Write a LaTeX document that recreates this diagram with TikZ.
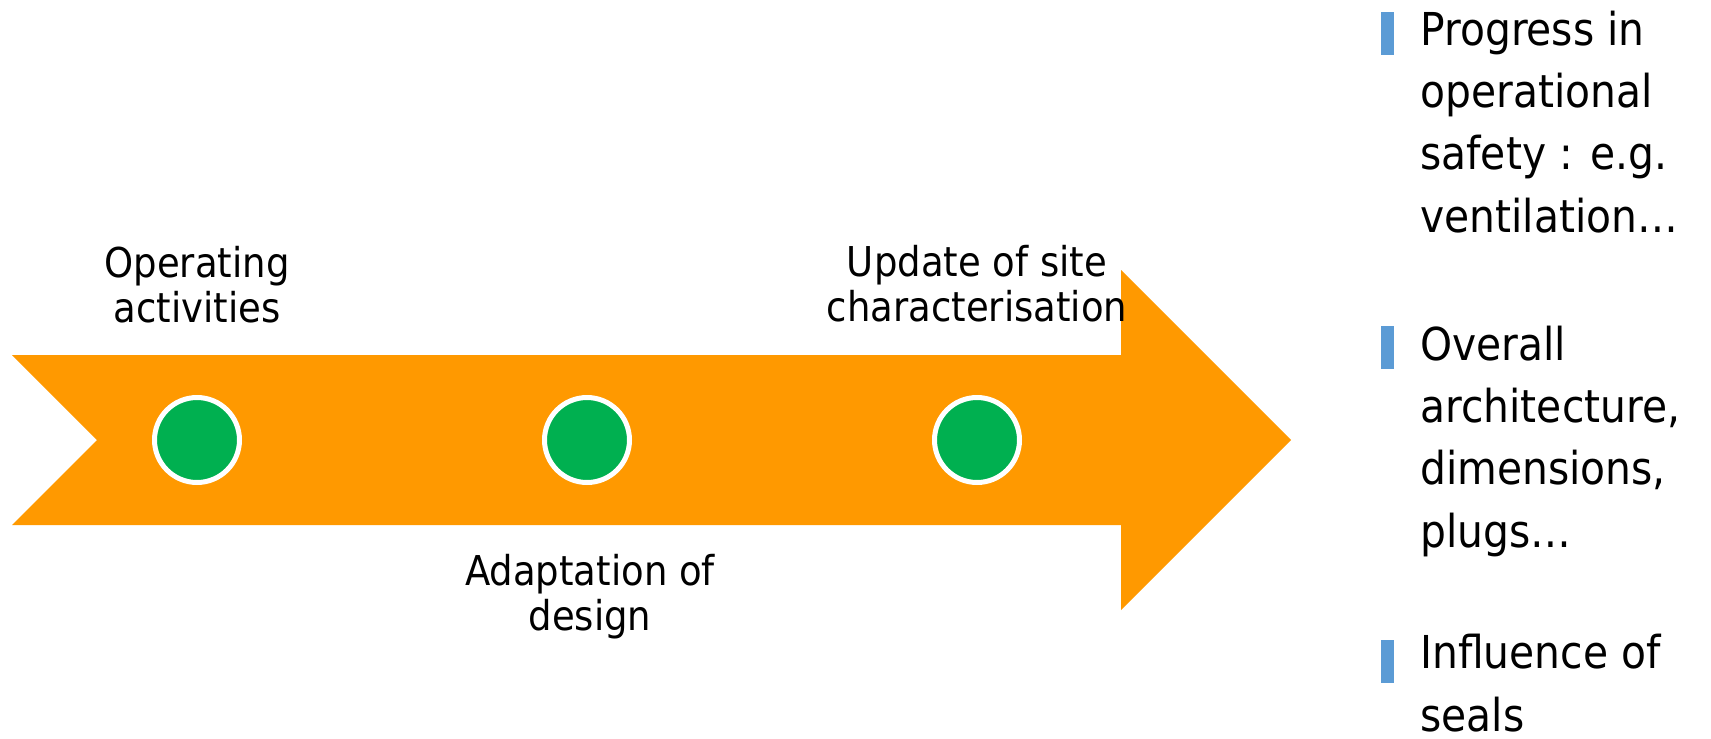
\documentclass[tikz,border=0pt]{standalone}
\usepackage{fontspec}
\setmainfont{DejaVu Sans}[FakeStretch=0.9]
\definecolor{arroworange}{HTML}{FF9900}
\definecolor{dotgreen}{HTML}{00B050}
\definecolor{barblue}{HTML}{5B9BD5}
\tikzset{
  dot/.style={circle,fill=dotgreen,draw=white,line width=0.1cm,minimum size=1.7cm,inner sep=0},
  lbl/.style={align=center,anchor=base,inner sep=0,font=\fontsize{23.4}{25.4}\selectfont},
  bar/.style={rectangle,fill=barblue,minimum width=0.26cm,minimum height=0.86cm,inner sep=0},
  item/.style={align=left,anchor=base west,inner sep=0,font=\fontsize{25.8}{35.4}\selectfont}
}
\begin{document}
\begin{tikzpicture}[x=0.02cm,y=-0.02cm]
  \useasboundingbox (0,0) rectangle (1711,738);
  % the arrow
  \fill[arroworange] (12,355) -- (1121,355) -- (1121,270) -- (1291,440)
     -- (1121,610) -- (1121,525) -- (12,525) -- (97,440) -- cycle;
  \node[dot] (d1) at (197,440) {};
  \node[dot] (d2) at (587,440) {};
  \node[dot] (d3) at (977,440) {};
  % base = last line
  \node[lbl] (op) at (197,322) {Operating\\activities};
  \node[lbl] (ad) at (590,630) {Adaptation of\\design};
  \node[lbl] (up) at (977,321) {Update of site\\characterisation};
  % items on the right
  \node[bar] (b1) at (1387.5,33.5) {};
  \node[bar] (b2) at (1387.5,347.5) {};
  \node[bar] (b3) at (1387.5,661) {};
  \node[item] (i1) at (1420,232) {Progress in\\operational\\safety : e.g.\\ventilation…};
  \node[item] (i2) at (1420,547) {Overall\\architecture,\\dimensions,\\plugs…};
  \node[item] (i3) at (1420,731) {Influence of\\seals};
\end{tikzpicture}
\end{document}
